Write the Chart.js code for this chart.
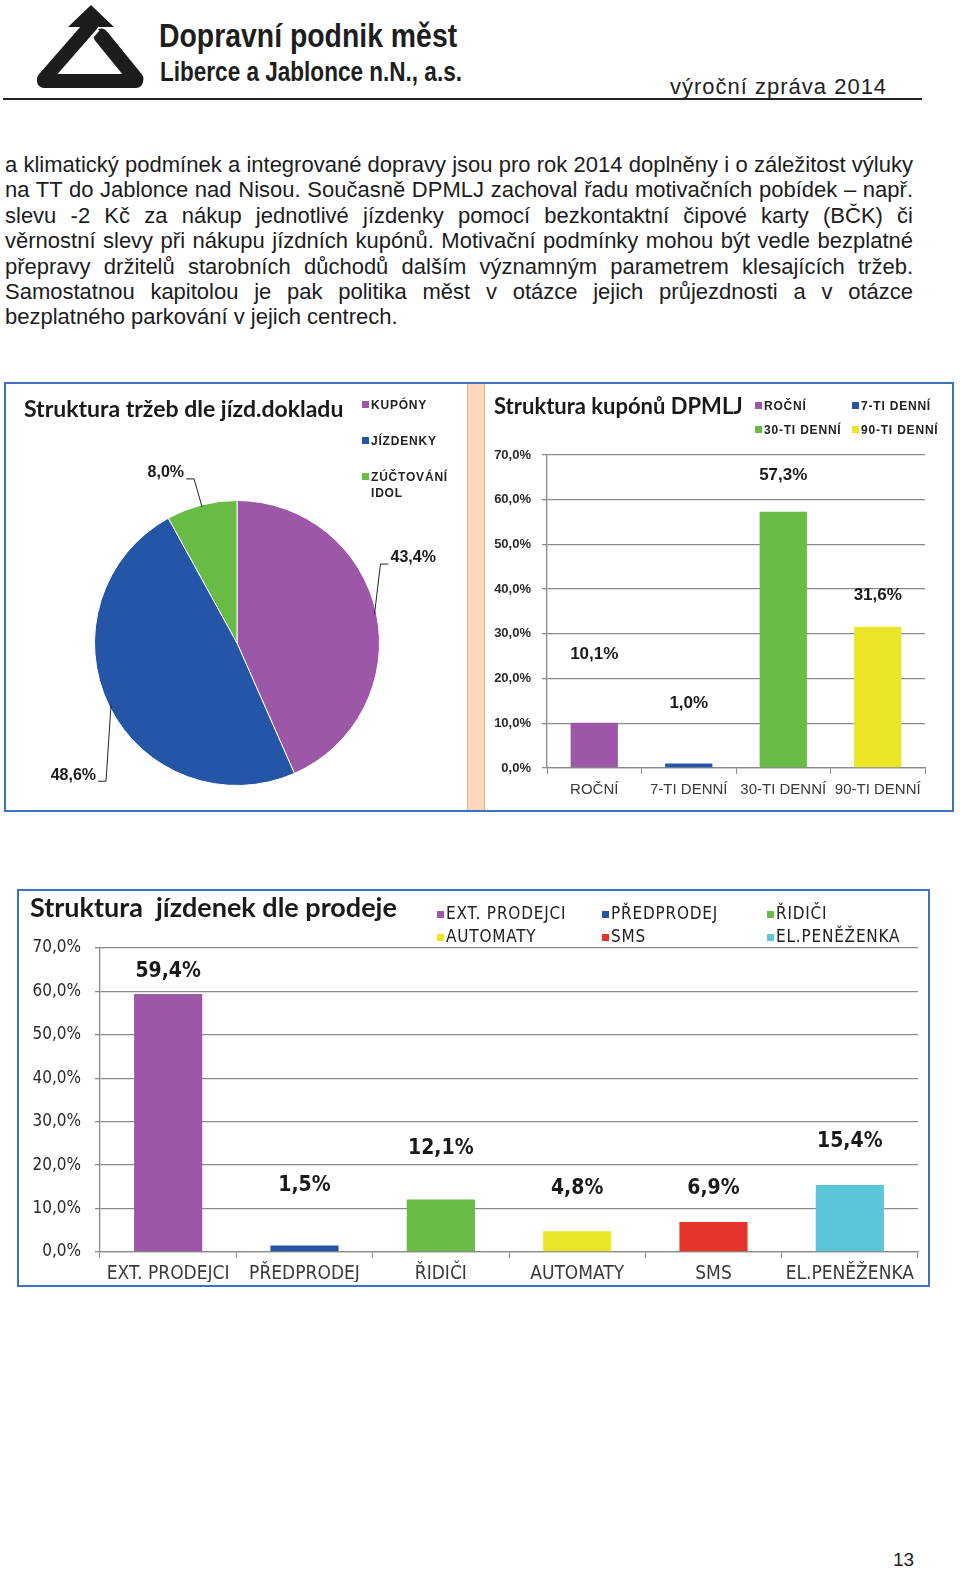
<!DOCTYPE html>
<html lang="cs">
<head>
<meta charset="UTF-8">
<title>DPMLJ výroční zpráva 2014 - str. 13</title>
<script src="https://cdn.jsdelivr.net/npm/chart.js@4.4.1/dist/chart.umd.min.js"></script>
<style>
    body { margin: 0; background: #fff; width: 960px; height: 1574px; position: relative; overflow: hidden; font-family: "Liberation Sans", Arial, sans-serif; color: #1c1c1c; }
    .abs { position: absolute; white-space: nowrap; }
    .narrow { font-family: "Liberation Sans Narrow", "DejaVu Sans Condensed", sans-serif; }
    .squeeze { transform: scaleX(0.835); transform-origin: left top; }
    .para { position: absolute; left: 5px; top: 152px; width: 908px; font-size: 22px; line-height: 25.4px; }
    .para div { text-align: justify; text-align-last: justify; white-space: nowrap; }
    .para div.last { text-align-last: left; }
    .box { position: absolute; border: 2px solid #4070c0; box-sizing: border-box; }
    canvas { position: absolute; }
    .title { position: absolute; white-space: nowrap; font-family: Lato, "Open Sans", sans-serif; font-weight: bold; color: #1a1a1a; }
    .leg { position: absolute; white-space: nowrap; font-weight: bold; font-size: 12px; letter-spacing: 0.8px; color: #222; line-height: 14px; }
    .leg i { display: inline-block; width: 7px; height: 7px; margin-right: 2px; vertical-align: 1px; }
</style>
</head>
<body>

<!-- hlavicka -->
<svg class="abs" style="left:0;top:0" width="160" height="100">
    <line x1="136" y1="79" x2="101" y2="36" stroke="#1c1c1c" stroke-width="15" stroke-linecap="round"/>
    <line x1="92" y1="24" x2="44" y2="79" stroke="#fff" stroke-width="20"/>
    <line x1="92" y1="24" x2="44" y2="79" stroke="#1c1c1c" stroke-width="14" stroke-linecap="round"/>
    <line x1="44" y1="81" x2="136" y2="81" stroke="#1c1c1c" stroke-width="14" stroke-linecap="round"/>
    <polygon points="68,27 91,5 114,27" fill="#1c1c1c"/>
</svg>
<div class="abs squeeze" style="left:159px;top:18px;font-size:34px;line-height:34px;font-weight:bold;color:#1e1e1e">Dopravní podnik měst</div>
<div class="abs squeeze" style="left:160px;top:59px;font-size:27px;line-height:27px;font-weight:bold;color:#1e1e1e">Liberce a Jablonce n.N., a.s.</div>
<div class="abs" style="left:670px;top:76px;font-size:22px;line-height:22px;letter-spacing:1px;color:#222">výroční zpráva 2014</div>
<div class="abs" style="left:3px;top:98px;width:919px;height:2px;background:#222"></div>

<div class="para">
    <div>a klimatický podmínek a integrované dopravy jsou pro rok 2014 doplněny i o záležitost výluky</div>
    <div>na TT do Jablonce nad Nisou. Současně DPMLJ zachoval řadu motivačních pobídek – např.</div>
    <div>slevu -2 Kč za nákup jednotlivé jízdenky pomocí bezkontaktní čipové karty (BČK) či</div>
    <div>věrnostní slevy při nákupu jízdních kupónů. Motivační podmínky mohou být vedle bezplatné</div>
    <div>přepravy držitelů starobních důchodů dalším významným parametrem klesajících tržeb.</div>
    <div>Samostatnou kapitolou je pak politika měst v otázce jejich průjezdnosti a v otázce</div>
    <div class="last">bezplatného parkování v jejich centrech.</div>
</div>

<!-- horni ramecek s kolacem a kupony -->
<div class="box" style="left:4px;top:382px;width:950px;height:430px"></div>
<div class="abs" style="left:467px;top:384px;width:16px;height:426px;background:#fbd8bd;border-left:1px solid #f0a878;border-right:1px solid #f0a878"></div>
<canvas id="pieChart" width="461" height="426" style="left:6px;top:384px"></canvas>
<canvas id="kuponChart" width="467" height="426" style="left:485px;top:384px"></canvas>
<div class="title" style="left:24px;top:395px;font-size:23px;line-height:26px">Struktura tržeb dle jízd.dokladu</div>
<div class="title" style="left:494px;top:393px;font-size:22px;line-height:26px">Struktura kupónů DPMLJ</div>
<div id="pieLegend"></div>
<div id="kuponLegend"></div>

<!-- dolni ramecek -->
<div class="box" style="left:17px;top:889px;width:913px;height:398px"></div>
<canvas id="prodejChart" width="908" height="399" style="left:19px;top:891px"></canvas>
<div class="title narrow" style="left:30px;top:892px;font-size:27px;line-height:30px">Struktura&nbsp; jízdenek dle prodeje</div>
<div id="prodejLegend"></div>

<div class="abs" style="left:893px;top:1549px;font-size:19px;line-height:22px;color:#222">13</div>

<script>
    // data
    const pieLabels = ['KUPÓNY', 'JÍZDENKY', 'ZÚČTOVÁNÍ IDOL'];
    const pieValues = [43.4, 48.6, 8.0];
    const pieColors = ['#9c58a6', '#2455a6', '#68bb45'];

    const kuponLabels = ['ROČNÍ', '7-TI DENNÍ', '30-TI DENNÍ', '90-TI DENNÍ'];
    const kuponValues = [10.1, 1.0, 57.3, 31.6];
    const kuponColors = ['#9c58a6', '#2455a6', '#68bb45', '#ebe528'];

    const prodejLabels = ['EXT. PRODEJCI', 'PŘEDPRODEJ', 'ŘIDIČI', 'AUTOMATY', 'SMS', 'EL.PENĚŽENKA'];
    const prodejValues = [59.4, 1.5, 12.1, 4.8, 6.9, 15.4];
    const prodejColors = ['#9c58a6', '#2455a6', '#68bb45', '#ebe528', '#e6332b', '#5cc6d9'];

    const percentTicks = [0, 10, 20, 30, 40, 50, 60, 70];

    // jak vysoko nad sloupcem sedi popisky (px), v excelu je to nahodne
    const kuponLift = [69, 60, 36, 31];
    const prodejLift = [22, 60, 51, 43, 33, 44];
    // odsazeni loktu odkazovych car u kolace
    const pieLeaders = [[6, -50], [-5, 76], [-8, -28]];

    function fmt(v) {
        return v.toFixed(1).replace('.', ',') + '%';
    }

    // legendy jako html
    function makeLegend(id, labels, colors, spots, extraStyle) {
        var holder = document.getElementById(id);
        labels.forEach(function (lab, i) {
            var d = document.createElement('div');
            d.className = 'leg';
            if (extraStyle) d.className += ' ' + extraStyle;
            d.style.left = spots[i][0] + 'px';
            d.style.top = spots[i][1] + 'px';
            var sw = document.createElement('i');
            sw.style.background = colors[i];
            d.appendChild(sw);
            d.appendChild(document.createTextNode(lab));
            holder.appendChild(d);
        });
    }

    makeLegend('pieLegend', ['KUPÓNY', 'JÍZDENKY', 'ZÚČTOVÁNÍ'], pieColors, [[362, 398], [362, 434], [362, 470]]);
    var idol = document.createElement('div');
    idol.className = 'leg';
    idol.style.left = '371px';
    idol.style.top = '486px';
    idol.textContent = pieLabels[2].split(' ')[1];
    document.getElementById('pieLegend').appendChild(idol);

    makeLegend('kuponLegend', kuponLabels, kuponColors, [[755, 399], [852, 399], [755, 423], [852, 423]]);
    makeLegend('prodejLegend', prodejLabels, prodejColors,
        [[437, 905], [602, 905], [767, 905], [437, 928], [602, 928], [767, 928]], 'narrow');
    document.querySelectorAll('#prodejLegend .leg').forEach(function (el) {
        el.style.fontSize = '17px';
        el.style.fontWeight = 'normal';
        el.style.letterSpacing = '0.8px';
        el.style.lineHeight = '17px';
    });

    // popisky nad sloupci
    const barLabels = {
        id: 'barLabels',
        afterDatasetsDraw(chart, args, opts) {
            const ctx = chart.ctx;
            const meta = chart.getDatasetMeta(0);
            ctx.save();
            ctx.font = opts.font;
            ctx.fillStyle = '#1a1a1a';
            ctx.textAlign = 'center';
            ctx.textBaseline = 'middle';
            meta.data.forEach(function (bar, i) {
                ctx.fillText(fmt(chart.data.datasets[0].data[i]), bar.x, bar.y - opts.lift[i]);
            });
            ctx.restore();
        }
    };

    // popisky kolace s odkazovou carou
    const pieLabelPlugin = {
        id: 'pieLabels',
        afterDatasetsDraw(chart) {
            const ctx = chart.ctx;
            const meta = chart.getDatasetMeta(0);
            ctx.save();
            ctx.font = 'bold 16px "Liberation Sans", Arial, sans-serif';
            ctx.fillStyle = '#1a1a1a';
            ctx.strokeStyle = '#222';
            ctx.lineWidth = 1;
            ctx.textBaseline = 'middle';
            meta.data.forEach(function (arc, i) {
                const mid = (arc.startAngle + arc.endAngle) / 2;
                const ex = arc.x + Math.cos(mid) * (arc.outerRadius - 2);
                const ey = arc.y + Math.sin(mid) * (arc.outerRadius - 2);
                const lx = ex + pieLeaders[i][0];
                const ly = ey + pieLeaders[i][1];
                const dir = Math.cos(mid) >= 0 ? 1 : -1;
                const hx = lx + dir * 8;
                ctx.beginPath();
                ctx.moveTo(ex, ey);
                ctx.lineTo(lx, ly);
                ctx.lineTo(hx, ly);
                ctx.stroke();
                ctx.textAlign = dir > 0 ? 'left' : 'right';
                ctx.fillText(fmt(pieValues[i]), hx + dir * 2, ly - 6);
            });
            ctx.restore();
        }
    };

    new Chart('pieChart', {
        type: 'pie',
        data: {
            labels: pieLabels,
            datasets: [{
                data: pieValues,
                backgroundColor: pieColors,
                borderColor: '#ffffff',
                borderWidth: 1
            }]
        },
        options: {
            responsive: false,
            animation: false,
            layout: { padding: { left: 88, right: 87, top: 116, bottom: 24 } },
            plugins: { legend: { display: false }, tooltip: { enabled: false } }
        },
        plugins: [pieLabelPlugin]
    });

    function barOptions(cfg) {
        return {
            responsive: false,
            animation: false,
            layout: { padding: cfg.padding },
            plugins: {
                legend: { display: false },
                tooltip: { enabled: false },
                barLabels: { font: cfg.labelFont, lift: cfg.lift }
            },
            scales: {
                x: {
                    grid: { offset: true, drawOnChartArea: false, drawTicks: true, tickLength: 6, color: '#8a8a8a' },
                    border: { display: true, color: '#8a8a8a', width: 1.3 },
                    ticks: { color: '#3a3a3a', font: cfg.xFont, padding: cfg.xPad, maxRotation: 0, autoSkip: false },
                    afterFit: function (scale) { scale.height = cfg.xHeight; }
                },
                y: {
                    min: 0,
                    max: 70,
                    afterBuildTicks: function (scale) {
                        scale.ticks = percentTicks.map(function (v) { return { value: v }; });
                    },
                    grid: { color: '#8a8a8a', lineWidth: 1.3, tickLength: 5 },
                    border: { display: true, color: '#8a8a8a', width: 1.3 },
                    ticks: {
                        color: '#2a2a2a',
                        font: cfg.yFont,
                        padding: cfg.yPad,
                        callback: function (v) { return fmt(v); }
                    },
                    afterFit: function (scale) { scale.width = cfg.yWidth; }
                }
            }
        };
    }

    new Chart('kuponChart', {
        type: 'bar',
        data: {
            labels: kuponLabels,
            datasets: [{
                data: kuponValues,
                backgroundColor: kuponColors,
                borderWidth: 0,
                categoryPercentage: 1.0,
                barPercentage: 0.5
            }]
        },
        options: barOptions({
            padding: { left: 0, right: 27, top: 71, bottom: 10 },
            yWidth: 62,
            yPad: 11,
            xHeight: 32,
            xPad: 7,
            yFont: { family: '"Liberation Sans", Arial, sans-serif', size: 13, weight: 'bold' },
            xFont: { family: '"Liberation Sans", Arial, sans-serif', size: 15 },
            labelFont: 'bold 17px "Liberation Sans", Arial, sans-serif',
            lift: kuponLift
        }),
        plugins: [barLabels]
    });

    new Chart('prodejChart', {
        type: 'bar',
        data: {
            labels: prodejLabels,
            datasets: [{
                data: prodejValues,
                backgroundColor: prodejColors,
                borderWidth: 0,
                categoryPercentage: 1.0,
                barPercentage: 0.5
            }]
        },
        options: barOptions({
            padding: { left: 0, right: 9, top: 57, bottom: 8 },
            yWidth: 81,
            yPad: 14,
            xHeight: 30,
            xPad: 5,
            yFont: { family: '"Liberation Sans Narrow", "DejaVu Sans Condensed", sans-serif', size: 17 },
            xFont: { family: '"Liberation Sans Narrow", "DejaVu Sans Condensed", sans-serif', size: 19 },
            labelFont: 'bold 21px "Liberation Sans Narrow", "DejaVu Sans Condensed", sans-serif',
            lift: prodejLift
        }),
        plugins: [barLabels]
    });
</script>

</body>
</html>
